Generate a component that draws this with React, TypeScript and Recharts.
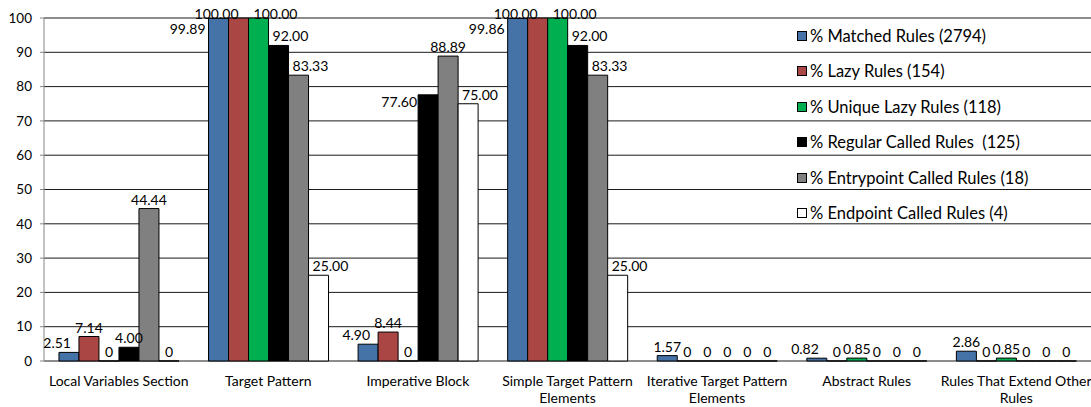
import { Bar, BarChart, CartesianGrid, LabelList, Legend, XAxis, YAxis } from 'recharts';

const categories = [
  'Local Variables Section',
  'Target Pattern',
  'Imperative Block',
  'Simple Target Pattern Elements',
  'Iterative Target Pattern Elements',
  'Abstract Rules',
  'Rules That Extend Other Rules',
];
const matched = [2.51, 99.89, 4.9, 99.86, 1.57, 0.82, 2.86];
const lazy = [7.14, 100, 8.44, 100, 0, 0, 0];
const uniqueLazy = [0, 100, 0, 100, 0, 0.85, 0.85];
const regularCalled = [4.0, 92.0, 77.6, 92.0, 0, 0, 0];
const entrypointCalled = [44.44, 83.33, 88.89, 83.33, 0, 0, 0];
const endpointCalled = [0, 25.0, 75.0, 25.0, 0, 0, 0];
const yTicks = [0, 10, 20, 30, 40, 50, 60, 70, 80, 90, 100];
const edgeTicks = [0, 1, 2, 3, 4, 5, 6, 7];

const FONT = 'Lato, sans-serif';

const series = [
  { key: 'matched', name: '% Matched Rules (2794)', values: matched, fill: '#4572A7' },
  { key: 'lazy', name: '% Lazy Rules (154)', values: lazy, fill: '#AA4643' },
  { key: 'uniqueLazy', name: '% Unique Lazy Rules (118)', values: uniqueLazy, fill: '#00B050' },
  { key: 'regular', name: '% Regular Called Rules  (125)', values: regularCalled, fill: '#000000' },
  { key: 'entrypoint', name: '% Entrypoint Called Rules (18)', values: entrypointCalled, fill: '#808080' },
  { key: 'endpoint', name: '% Endpoint Called Rules (4)', values: endpointCalled, fill: '#FFFFFF' },
];

const data = categories.map((name, i) => {
  const row: Record<string, string | number> = { name };
  series.forEach((s) => {
    row[s.key] = s.values[i];
  });
  return row;
});

const fmt = (v: number) => (v === 0 ? '0' : v.toFixed(2));

// labels that would collide are pushed aside, roughly like the original
const makeLabel = (seriesIndex: number) => (props: any) => {
  const { x, y, width, value, index } = props;
  const v = Number(value);
  const prev = seriesIndex > 0 ? series[seriesIndex - 1].values[index] : 0;
  const tallerElsewhere = series.some((s) => s.values[index] > v);
  let tx = x + width / 2;
  let ty = y - 4;
  let anchor: 'middle' | 'start' | 'end' = 'middle';
  if (v >= 99 && v < 100) {
    tx = x - 3;
    ty = y + 16;
    anchor = 'end';
  } else if (v >= 100) {
    ty = y + 1;
    if (seriesIndex === 1) {
      anchor = 'end';
    } else if (seriesIndex === 2) {
      anchor = 'start';
      tx = x + width / 4;
    }
  } else if (v > 50 && prev === 0) {
    anchor = 'end';
    tx = x - 1;
    ty = y + 12;
  } else if (v > 5 && prev > v) {
    anchor = 'start';
    tx = x + 4;
  } else if (seriesIndex === 0 && v > 0 && tallerElsewhere) {
    anchor = 'end';
    tx = x + width * 0.6;
  }
  return (
    <text x={tx} y={ty} textAnchor={anchor} fontSize={14} fontFamily={FONT} fill="#000">
      {fmt(v)}
    </text>
  );
};

const wrapWords = (text: string, max: number) => {
  const lines: string[] = [];
  let cur = '';
  text.split(' ').forEach((w) => {
    const next = cur ? cur + ' ' + w : w;
    if (next.length > max && cur) {
      lines.push(cur);
      cur = w;
    } else {
      cur = next;
    }
  });
  if (cur) lines.push(cur);
  return lines;
};

const CategoryTick = (props: any) => {
  const { x, y, payload } = props;
  const lines = wrapWords(String(payload.value), 24);
  return (
    <text x={x} y={y + 25} textAnchor="middle" fontSize={14} fontFamily={FONT} fill="#000">
      {lines.map((l, i) => (
        <tspan key={i} x={x} dy={i === 0 ? 0 : 17}>
          {l}
        </tspan>
      ))}
    </text>
  );
};

const LegendBox = () => (
  <div style={{ fontFamily: FONT, fontSize: 16.5, color: '#000' }}>
    {series.map((s) => (
      <div key={s.key} style={{ height: 35.5, display: 'flex', alignItems: 'center' }}>
        <span
          style={{
            display: 'inline-block',
            width: 8,
            height: 8,
            background: s.fill,
            border: '1px solid #000',
            marginRight: 3,
          }}
        />
        <span style={{ whiteSpace: 'pre' }}>{s.name}</span>
      </div>
    ))}
  </div>
);

export default function App() {
  return (
    <div style={{ position: 'absolute', left: 0, top: 0, width: 1091, height: 407, background: '#fff' }}>
      <BarChart
        width={1091}
        height={407}
        data={data}
        margin={{ top: 18, right: 0, bottom: 0, left: 0 }}
        barCategoryGap="10%"
        barGap={0}
      >
        <CartesianGrid vertical={false} stroke="#1a1a1a" />
        <XAxis
          xAxisId="edge"
          type="number"
          domain={[0, 7]}
          ticks={edgeTicks}
          height={0}
          tickSize={5}
          tickFormatter={() => ''}
          axisLine={{ stroke: '#1a1a1a' }}
          tickLine={{ stroke: '#868686' }}
        />
        <XAxis
          dataKey="name"
          height={46}
          axisLine={false}
          tickLine={false}
          tickSize={0}
          tickMargin={0}
          interval={0}
          tick={<CategoryTick />}
        />
        <YAxis
          width={44}
          domain={[0, 100]}
          ticks={yTicks}
          tickSize={4}
          tickMargin={8}
          axisLine={{ stroke: '#868686' }}
          tickLine={{ stroke: '#868686' }}
          tick={{ fontSize: 13.5, fontFamily: FONT, fill: '#000' }}
        />
        <Legend
          layout="vertical"
          align="center"
          verticalAlign="middle"
          content={<LegendBox />}
          wrapperStyle={{ top: 18, left: 797, width: 'auto' }}
        />
        {series.map((s, i) => (
          <Bar
            key={s.key}
            dataKey={s.key}
            name={s.name}
            fill={s.fill}
            stroke="#000"
            strokeWidth={1}
            minPointSize={0.01}
            isAnimationActive={false}
          >
            <LabelList dataKey={s.key} content={makeLabel(i)} />
          </Bar>
        ))}
      </BarChart>
    </div>
  );
}
